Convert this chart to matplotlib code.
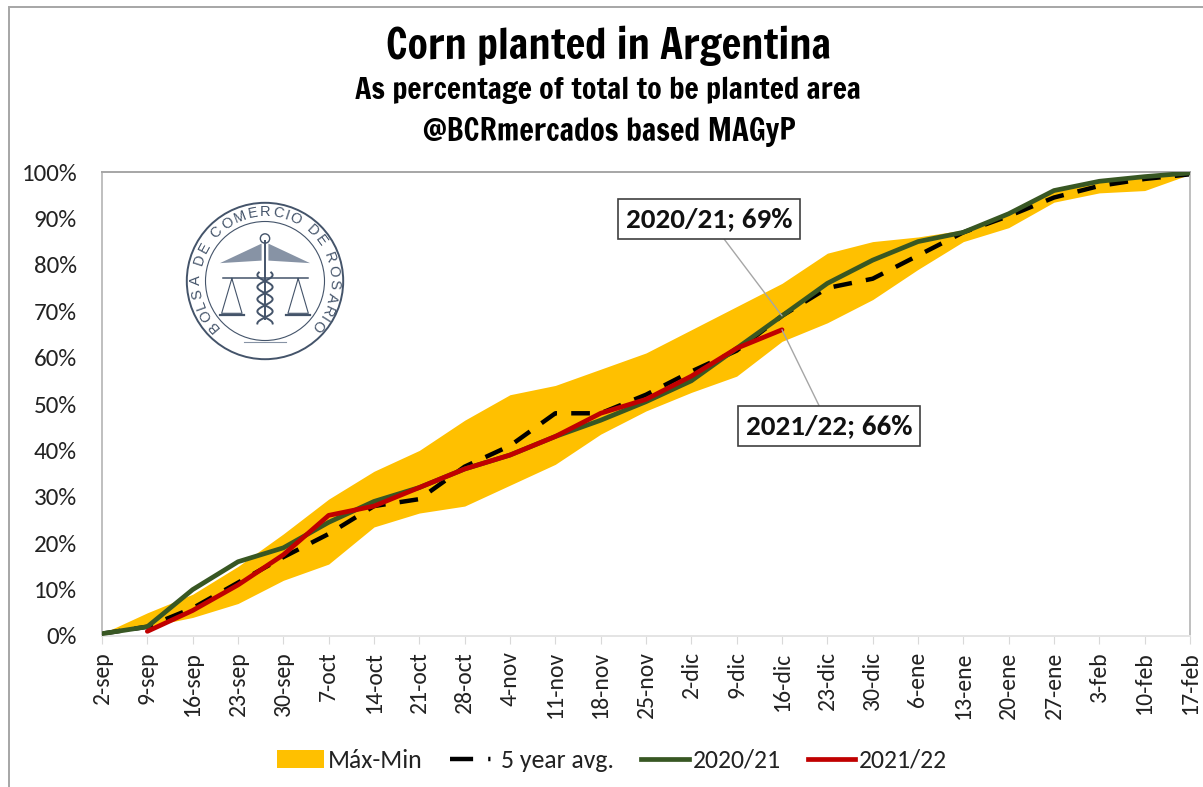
import numpy as np
import matplotlib
matplotlib.use("Agg")
import matplotlib.pyplot as plt
from matplotlib import font_manager as fm
from matplotlib.font_manager import FontProperties
from matplotlib.textpath import TextPath
from matplotlib.patches import Circle, Rectangle, Patch
from matplotlib.lines import Line2D

dates = ["2-sep","9-sep","16-sep","23-sep","30-sep","7-oct","14-oct","21-oct","28-oct",
         "4-nov","11-nov","18-nov","25-nov","2-dic","9-dic","16-dic","23-dic","30-dic",
         "6-ene","13-ene","20-ene","27-ene","3-feb","10-feb","17-feb"]
maximum = [0.5,5,9,15,22,29.5,35.5,40,46.5,52,54,57.5,61,66,71,76,82.5,85,86,87.5,91,96,98,99,100]
minimum = [0.5,2,4,7,12,15.5,23.5,26.5,28,32.5,37,43.5,48.5,52.5,56,63.5,67.5,72.5,79,85,88,93.5,95.5,96,99.5]
avg5 = [0.5,2,6,11.5,17,22,28,29.5,36.5,41,48,48,52,57,61.5,69,75,77,82,87,90.5,94.5,97,98.5,99.5]
y2021 = [0.5,2,10,16,19,24.5,29,32,36,39,43,46.5,50.5,55,62,69,76,81,85,87,91,96,98,99,99.8]
y2122 = [1,5.5,11,17.5,26,28,32,36,39,43,48,51,56,62,66]
yticks = [0,10,20,30,40,50,60,70,80,90,100]
label_a = "2020/21; 69%"
label_b = "2021/22; 66%"

available = {f.name for f in fm.fontManager.ttflist}
def pick(*names):
    for n in names:
        if n in available:
            return [n, "DejaVu Sans"]
    return ["DejaVu Sans"]
NARROW = pick("Francois One", "Archivo Narrow", "Roboto Condensed", "Liberation Sans")
BODY = pick("Carlito", "Lato", "Open Sans")

W, H = 1203, 787
fig = plt.figure(figsize=(W/100, H/100), dpi=100, facecolor="white")
ax = fig.add_axes([102/W, 1-636/H, (1190-102)/W, (636-172)/H])
x = np.arange(len(dates))

ax.fill_between(x, minimum, maximum, color="#FFC000", lw=0, zorder=1)
ax.plot(x, avg5, color="black", lw=3.2, dashes=(4.2, 3.2), zorder=2)
ax.plot(x, y2021, color="#385723", lw=3.4, zorder=3, solid_capstyle="round")
ax.plot(x[1:1+len(y2122)], y2122, color="#C00000", lw=3.4, zorder=4, solid_capstyle="round")

ax.set_xlim(0, len(dates)-1)
ax.set_ylim(0, 100)
ax.set_xticks(x)
ax.set_xticklabels(dates, rotation=90, fontsize=17, family=BODY, color="#222222")
ax.set_yticks(yticks)
ax.set_yticklabels([f"{v}%" for v in yticks], fontsize=18, family=BODY, color="#222222")
ax.tick_params(axis="x", length=6, color="#D9D9D9", pad=5)
ax.tick_params(axis="y", length=0, pad=18)
for s in ax.spines.values():
    s.set_linewidth(1.4)
ax.spines["top"].set_color("#A6A6A6")
ax.spines["left"].set_color("#BFBFBF")
ax.spines["right"].set_color("#BFBFBF")
ax.spines["bottom"].set_color("#E4E4E4")

box = dict(boxstyle="square,pad=0.26", fc="white", ec="#404040", lw=1.2)
arrow = dict(arrowstyle="-", color="#A6A6A6", lw=1.0, shrinkA=0, shrinkB=0)
ax.annotate(label_a, xy=(15, y2021[15]), xytext=(709/W, 1-219/H), textcoords="figure fraction",
            ha="center", va="center", fontsize=21, fontweight="bold", family=BODY, color="#111111",
            bbox=box, arrowprops=arrow, zorder=6)
ax.annotate(label_b, xy=(15, y2122[-1]), xytext=(829/W, 1-426/H), textcoords="figure fraction",
            ha="center", va="center", fontsize=21, fontweight="bold", family=BODY, color="#111111",
            bbox=box, arrowprops=arrow, zorder=6)

fig.text(609/W, 1-46/H, "Corn planted in Argentina", ha="center", va="center",
         fontsize=29.8, family=NARROW, color="black")
fig.text(608/W, 1-90/H, "As percentage of total to be planted area", ha="center", va="center",
         fontsize=21.5, family=NARROW, color="black")
fig.text(609/W, 1-132/H, "@BCRmercados based MAGyP", ha="center", va="center",
         fontsize=22, family=NARROW, color="black")

# Outer frame
fig.add_artist(Rectangle((9/W, -0.01), 1.1, 1.01-7/H, transform=fig.transFigure, fill=False,
                         ec="#A6A6A6", lw=1.4))

# Legend
handles = [Patch(fc="#FFC000", ec="none"),
           Line2D([], [], color="black", lw=3.2, dashes=(5.2, 3.4, 0.5, 10)),
           Line2D([], [], color="#385723", lw=3.4),
           Line2D([], [], color="#C00000", lw=3.4)]
fig.legend(handles, ["Máx-Min", "5 year avg.", "2020/21", "2021/22"], loc="center",
           bbox_to_anchor=(612/W, 1-760/H), ncol=4, frameon=False,
           prop={"family": BODY, "size": 18.5}, handlelength=1.85, handletextpad=0.15,
           columnspacing=1.05, labelcolor="#222222")

# Seal of the Bolsa de Comercio de Rosario
lg = fig.add_axes([180/W, 1-366/H, 170/W, 170/H])
lg.set_xlim(-1, 1); lg.set_ylim(-1, 1); lg.axis("off")
NAVY = "#44546A"
lg.add_patch(Circle((0, 0), 0.92, fill=False, ec=NAVY, lw=1.4))
lg.add_patch(Circle((0, 0), 0.70, fill=False, ec=NAVY, lw=0.8))
seal = "BOLSA DE COMERCIO DE ROSARIO"
fp = FontProperties(family="Liberation Sans", size=10.5)
widths = [TextPath((0, 0), c, prop=fp).get_extents().width if c != " " else 3.0 for c in seal]
widths = np.array(widths) + 1.2
centers = np.cumsum(widths) - widths/2
angles = 226 - 272 * centers / widths.sum()
for ch, a in zip(seal, angles):
    r = np.deg2rad(a)
    lg.text(0.81*np.cos(r), 0.81*np.sin(r), ch, rotation=a-90, ha="center", va="center",
            fontproperties=fp, color=NAVY)
# wings, staff, scales
lg.fill([-0.53, -0.04, -0.04], [0.21, 0.44, 0.24], color="#8793A5", lw=0)
lg.fill([0.53, 0.04, 0.04], [0.21, 0.44, 0.24], color="#8793A5", lw=0)
lg.plot([0, 0], [-0.45, 0.47], color=NAVY, lw=1.4)
lg.add_patch(Circle((0, 0.50), 0.055, fill=False, ec=NAVY, lw=1.0))
lg.plot([-0.50, 0.50], [0.03, 0.03], color=NAVY, lw=1.1)
for sx in (-0.39, 0.39):
    lg.plot([sx, sx-0.12, sx+0.12, sx], [0.03, -0.38, -0.38, 0.03], color=NAVY, lw=0.8)
    lg.plot([sx-0.14, sx+0.14], [-0.40, -0.40], color=NAVY, lw=1.6)
t = np.linspace(-0.5, 0.1, 60)
lg.plot(0.09*np.sin(t*22), t, color=NAVY, lw=1.4)
lg.plot(-0.09*np.sin(t*22), t, color=NAVY, lw=1.4)
lg.plot([-0.25, 0.25], [-0.72, -0.72], color="#8793A5", lw=0.8)

fig.savefig("out.png", dpi=100, facecolor="white")
